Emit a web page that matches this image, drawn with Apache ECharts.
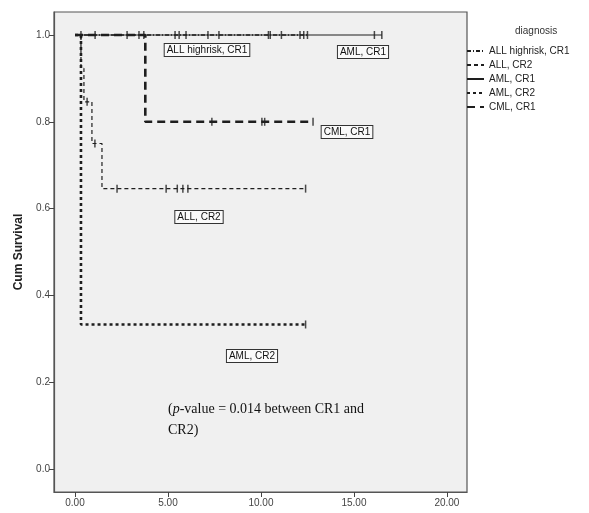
<!DOCTYPE html>
<html>
<head>
<meta charset="utf-8">
<script src="https://cdn.jsdelivr.net/npm/echarts@6/dist/echarts.min.js"></script>
<style>
	html, body { margin: 0; padding: 0; background: #fff; }
	#chart { width: 589px; height: 513px; }
</style>
</head>
<body>
<div id="chart"></div>
<script>
// 生存曲线数据 (time in x, cum survival in y)
var xTicks = [0, 5, 10, 15, 20];
var yTicks = [0, 0.2, 0.4, 0.6, 0.8, 1.0];
var groups = ['ALL highrisk, CR1', 'ALL, CR2', 'AML, CR1', 'AML, CR2', 'CML, CR1'];

var hrTimes = [0, 12.5];
var hrSurv = [1, 1];
var hrCensor = [0.32, 1.08, 2.8, 3.44, 5.38, 5.6, 5.97, 7.74, 10.4, 12.5];

var cr2Times = [0, 0.32, 0.48, 0.91, 1.45, 12.4];
var cr2Surv = [1, 0.923, 0.846, 0.75, 0.646, 0.646];
var cr2Censor = [0.65, 1.07, 2.26, 4.9, 5.5, 5.8, 6.07, 12.4];

var aml1Times = [0, 16.5];
var aml1Surv = [1, 1];
var aml1Censor = [3.7, 7.15, 10.5, 11.1, 12.1, 12.3, 16.1, 16.5];

var aml2Times = [0, 0.32, 12.4];
var aml2Surv = [1, 0.333, 0.333];
var aml2Censor = [12.4];

var cmlTimes = [0, 3.78, 12.8];
var cmlSurv = [1, 0.8, 0.8];
var cmlCensor = [7.36, 10.05, 10.2, 12.8];

var survivalChart = {
	init: function() {
		var chart = echarts.init(document.getElementById('chart'));
		chart.setOption(this.option());
	},
	pairs: function(times, surv) {
		return times.map(function(t, i) { return [t, surv[i]]; });
	},
	// 删失点：取该时刻之前最后一次事件的生存率
	censorPts: function(censor, times, surv) {
		return censor.map(function(c) {
			var v = surv[0];
			for (var i = 0; i < times.length; i++) {
				if (times[i] <= c) v = surv[i];
			}
			return [c, v];
		});
	},
	option: function() {
		var self = this;
		var ink = '#1e1e1e';
		var defs = [
			{ name: groups[0], t: hrTimes, s: hrSurv, c: hrCensor, w: 1.3, type: [4, 2, 1, 2] },
			{ name: groups[1], t: cr2Times, s: cr2Surv, c: cr2Censor, w: 1.2, type: [4, 3] },
			{ name: groups[2], t: aml1Times, s: aml1Surv, c: aml1Censor, w: 1, type: 'solid' },
			{ name: groups[3], t: aml2Times, s: aml2Surv, c: aml2Censor, w: 2.6, type: [3, 3] },
			{ name: groups[4], t: cmlTimes, s: cmlSurv, c: cmlCensor, w: 2.6, type: [8, 5] }
		];
		var series = [];
		defs.forEach(function(d) {
			series.push({
				name: d.name,
				type: 'line',
				step: 'end',
				symbol: 'none',
				showSymbol: false,
				silent: true,
				lineStyle: { color: ink, width: d.w, type: d.type },
				itemStyle: { color: ink },
				data: self.pairs(d.t, d.s)
			});
			series.push({
				name: d.name + ' censored',
				type: 'scatter',
				symbol: 'rect',
				symbolSize: [1.5, 8],
				silent: true,
				itemStyle: { color: ink },
				data: self.censorPts(d.c, d.t, d.s)
			});
		});

		var boxText = function(txt, cx, cy) {
			return {
				type: 'text',
				x: cx, y: cy,
				style: {
					text: txt,
					fill: '#111',
					font: '10px "Liberation Sans", Arial, sans-serif',
					align: 'center',
					verticalAlign: 'middle',
					backgroundColor: '#fafafa',
					borderColor: '#333',
					borderWidth: 1,
					padding: [1, 2, 1, 2]
				}
			};
		};

		return {
			backgroundColor: '#fff',
			animation: false,
			title: {
				text: 'diagnosis',
				left: 510,
				top: 21,
				textStyle: { fontSize: 10, fontWeight: 'normal', color: '#333', fontFamily: 'Liberation Sans' }
			},
			legend: {
				data: groups,
				orient: 'vertical',
				left: 461,
				top: 41,
				itemWidth: 17,
				itemHeight: 8,
				itemGap: 4,
				itemStyle: { opacity: 0 },
				textStyle: { fontSize: 10, color: '#222', fontFamily: 'Liberation Sans' }
			},
			grid: {
				left: 54, top: 12, right: 122, bottom: 21,
				show: true,
				backgroundColor: '#f0f0f0',
				borderColor: '#555',
				borderWidth: 1.2
			},
			xAxis: {
				type: 'value',
				min: -1.13,
				max: 21.08,
				axisLine: { show: true, onZero: false, lineStyle: { color: '#555', width: 1.2 } },
				axisTick: { show: true, length: 5, customValues: xTicks, lineStyle: { color: '#444' } },
				axisLabel: {
					customValues: xTicks,
					formatter: function(v) { return v.toFixed(2); },
					fontSize: 10, color: '#444', fontFamily: 'Liberation Sans', margin: 6
				},
				splitLine: { show: false }
			},
			yAxis: {
				type: 'value',
				min: -0.053,
				max: 1.053,
				name: 'Cum Survival',
				nameLocation: 'middle',
				nameGap: 29,
				nameTextStyle: { fontSize: 12, fontWeight: 'bold', color: '#222', fontFamily: 'Liberation Sans' },
				axisLine: { show: true, onZero: false, lineStyle: { color: '#555', width: 1.2 } },
				axisTick: { show: true, length: 5, customValues: yTicks, lineStyle: { color: '#444' } },
				axisLabel: {
					customValues: yTicks,
					formatter: function(v) { return v.toFixed(1); },
					fontSize: 10, color: '#444', fontFamily: 'Liberation Sans', margin: 4
				},
				splitLine: { show: false }
			},
			series: series,
			graphic: [
				boxText('ALL highrisk, CR1', 207, 50),
				boxText('AML, CR1', 363, 52),
				boxText('CML, CR1', 347, 132),
				boxText('ALL, CR2', 199, 217),
				boxText('AML, CR2', 252, 356),
				{
					type: 'text',
					x: 168, y: 399,
					style: {
						text: '({i|p}-value = 0.014 between CR1 and\nCR2)',
						font: '14px "Liberation Serif", "Times New Roman", serif',
						fill: '#111',
						lineHeight: 21,
						rich: {
							i: { fontStyle: 'italic', fontSize: 14, fontFamily: 'Liberation Serif', fill: '#111' }
						}
					}
				}
			]
		};
	}
};
survivalChart.init();
</script>
</body>
</html>
